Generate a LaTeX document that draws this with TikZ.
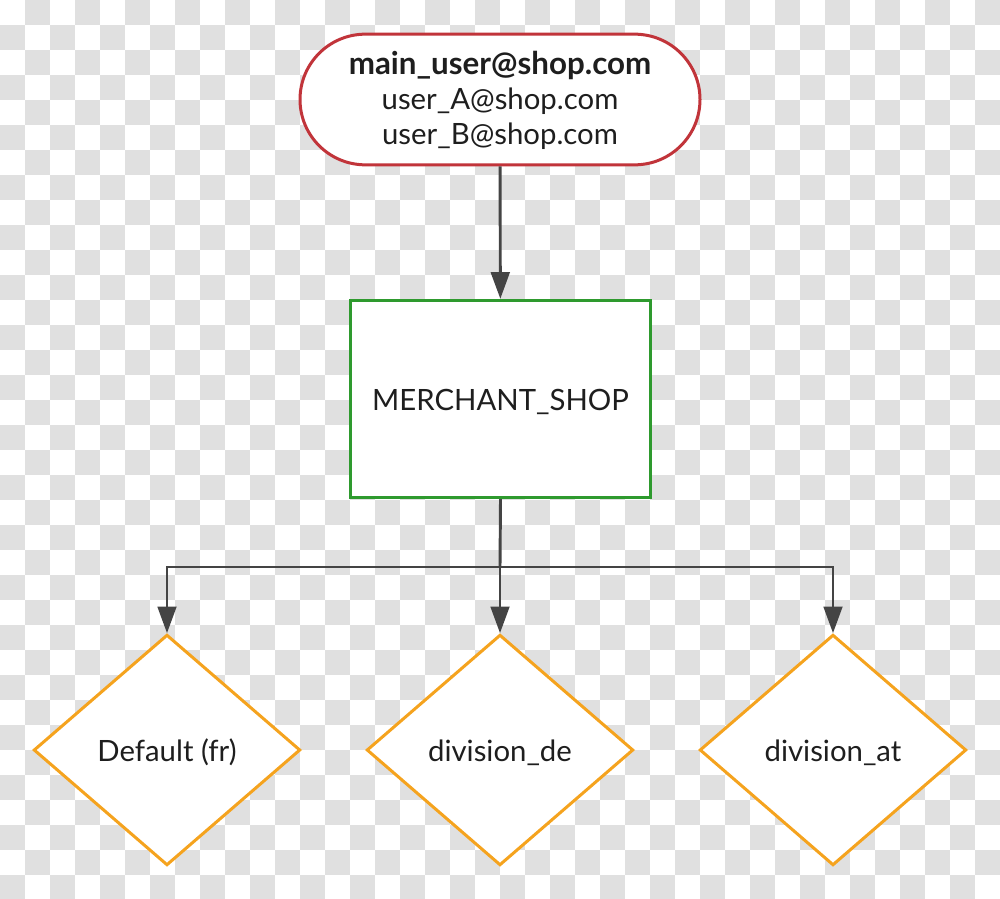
\documentclass[tikz,border=0pt]{standalone}
\usepackage{fontspec}
\setmainfont{Lato}
\usetikzlibrary{shapes.geometric,arrows.meta}
\definecolor{edgegray}{HTML}{444444}
\definecolor{redb}{HTML}{C1343A}
\definecolor{greenb}{HTML}{2E9A2E}
\definecolor{orangeb}{HTML}{F5A31E}
\definecolor{checker}{HTML}{E0E0E0}
\definecolor{txt}{HTML}{1E1E1E}
\newcommand{\lowr}[1]{\raisebox{-1.9pt}[\height][\depth]{#1}}
\begin{document}
\begin{tikzpicture}[x=0.75pt,y=0.75pt,
  every node/.style={text=txt,font=\fontsize{22}{26.25}\selectfont},
  userbox/.style={draw=redb,fill=white,line width=2.25pt,rounded corners=49pt,
    minimum width=300pt,minimum height=98pt,align=center,inner sep=0pt},
  shopbox/.style={draw=greenb,fill=white,line width=2.25pt,rectangle,
    minimum width=225pt,minimum height=148pt,inner sep=0pt},
  divbox/.style={draw=orangeb,fill=white,line width=2.25pt,diamond,aspect=1.15,
    minimum width=200pt,minimum height=173pt,inner sep=0pt},
  arr/.style={draw=edgegray,line width=2.2pt,-{Triangle[length=20pt,width=14pt]}},
  ln/.style={draw=edgegray,line width=2.2pt}]
\useasboundingbox (0,0) rectangle (1000,-899);
\foreach \i in {0,...,39}{\foreach \j in {0,...,35}{%
  \pgfmathparse{int(mod(\i+\j,2))}%
  \ifnum\pgfmathresult=1 \fill[checker] (\i*25,-\j*25) rectangle ++(25,-25);\fi}}
\node[userbox] (users) at (500,-99.5) {\lowr{\begin{tabular}{@{}c@{}}{\fontsize{23.5}{26.25}\selectfont\bfseries main\_user@shop.com}\\user\_A@shop.com\\user\_B@shop.com\end{tabular}}};
\node[shopbox] (shop) at (500.5,-399) {\lowr{MERCHANT\_SHOP}};
\node[divbox] (d1) at (167,-750) {\lowr{Default (fr)}};
\node[divbox] (d2) at (500,-750) {\lowr{division\_de}};
\node[divbox] (d3) at (833,-750) {\lowr{division\_at}};
\draw[arr] (users) -- (shop);
\coordinate (split) at (500,-567);
\draw[ln] (shop.south) -- (split);
\draw[arr] (split) -| (d1.north);
\draw[arr] (split) -- (d2.north);
\draw[arr] (split) -| (d3.north);
\end{tikzpicture}
\end{document}
